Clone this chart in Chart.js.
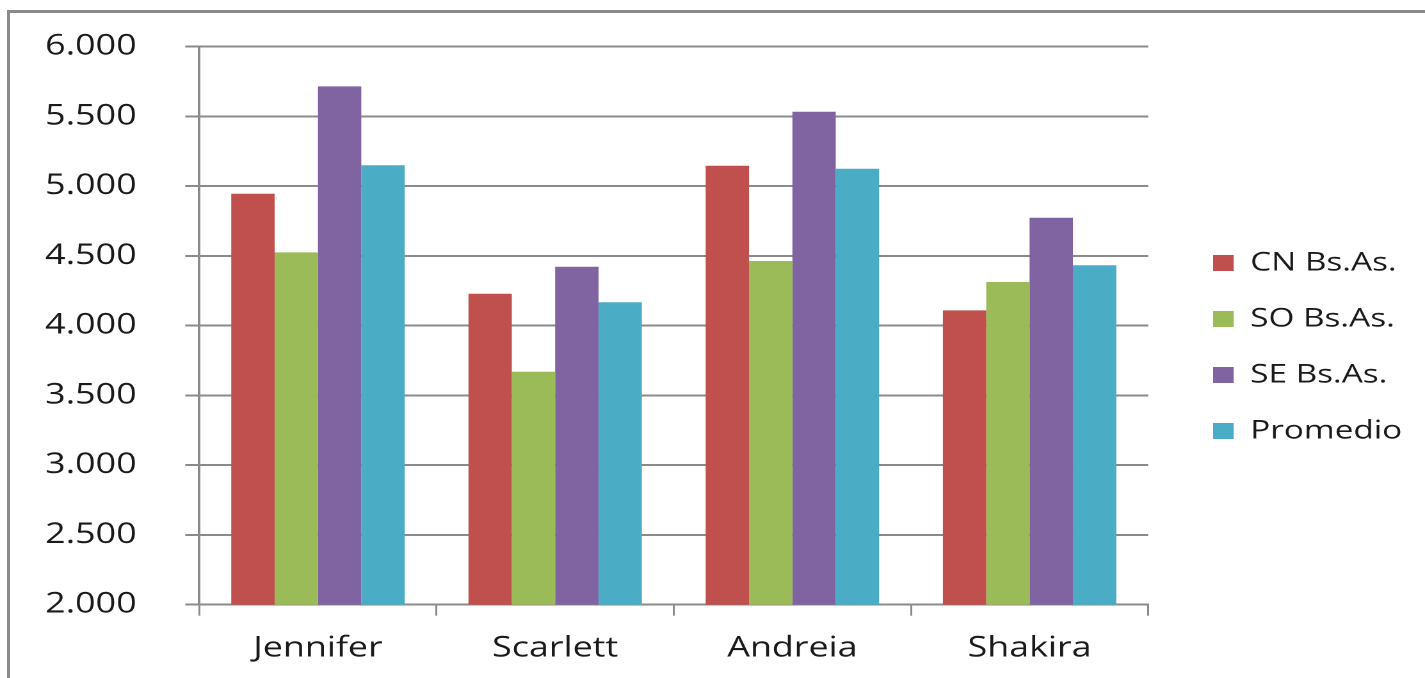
<!DOCTYPE html>
<html><head><meta charset="utf-8">
<script src="https://cdn.jsdelivr.net/npm/chart.js@4"></script>
<style>
html,body{margin:0;padding:0;background:#fff;overflow:hidden;width:1425px;height:678px;}
#frame{position:absolute;left:7px;top:10px;width:3000px;height:3000px;border-left:3px solid #8a8a8a;border-top:3px solid #8a8a8a;}
#wrap{position:absolute;left:0;top:0;width:1113px;height:678px;transform-origin:0 0;transform:scaleX(1.28032);}
</style></head><body>
<div id="frame"></div>
<div id="wrap"><canvas id="c" width="1113" height="678" style="width:1113px;height:678px"></canvas></div>
<script>
const categories = ['Jennifer', 'Scarlett', 'Andreia', 'Shakira'];
const seriesNames = ['CN Bs.As.', 'SO Bs.As.', 'SE Bs.As.', 'Promedio'];
const cnBsAs = [4946, 4229, 5147, 4110];
const soBsAs = [4526, 3670, 4464, 4313];
const seBsAs = [5716, 4423, 5534, 4774];
const promedio = [5150, 4168, 5125, 4433];
const yTickLabels = ['2.000', '2.500', '3.000', '3.500', '4.000', '4.500', '5.000', '5.500', '6.000'];
const seriesColors = ['#C0504D', '#9BBB59', '#8064A2', '#4BACC6'];

Chart.defaults.font.family = "'Open Sans', 'DejaVu Sans', sans-serif";
const seriesValues = [cnBsAs, soBsAs, seBsAs, promedio];

new Chart(document.getElementById('c'), {
  type: 'bar',
  data: {
    labels: categories,
    datasets: seriesNames.map((name, i) => ({
      label: name,
      data: seriesValues[i],
      backgroundColor: seriesColors[i],
      borderWidth: 0,
      categoryPercentage: 0.731,
      barPercentage: 1.0
    }))
  },
  options: {
    responsive: false,
    animation: false,
    devicePixelRatio: 2,
    layout: { padding: { left: 0, top: 16, right: 12, bottom: 0 } },
    plugins: {
      legend: {
        position: 'right',
        align: 'center',
        labels: { boxWidth: 16, boxHeight: 16, padding: 30, color: '#1a1a1a', font: { size: 26 } }
      },
      tooltip: { enabled: false }
    },
    scales: {
      x: {
        grid: { display: true, drawOnChartArea: false, drawTicks: true, tickLength: 11, color: '#8a8a8a', lineWidth: 1.5, offset: true },
        border: { display: true, color: '#8a8a8a', width: 2 },
        ticks: { color: '#1a1a1a', font: { size: 28 }, padding: 16 },
        afterFit: s => { s.height = 73.3; }
      },
      xPad: {
        position: 'top', display: true,
        grid: { display: false }, ticks: { display: false }, border: { display: false },
        afterFit: s => { s.height = 30.7; }
      },
      y: {
        min: 2000, max: 6000,
        ticks: { stepSize: 500, padding: 38, color: '#1a1a1a', font: { size: 28 }, callback: (v, i) => yTickLabels[i] },
        grid: { color: '#8a8a8a', lineWidth: 2, tickLength: 11 },
        border: { display: true, color: '#8a8a8a', width: 2 },
        afterFit: s => { s.width = 155.7; s.paddingTop = 0; s.paddingBottom = 0; }
      },
      yPad: {
        position: 'right', display: true,
        grid: { display: false }, ticks: { display: false }, border: { display: false },
        afterFit: s => { s.width = 20.7; }
      }
    }
  }
});
</script>
</body></html>
